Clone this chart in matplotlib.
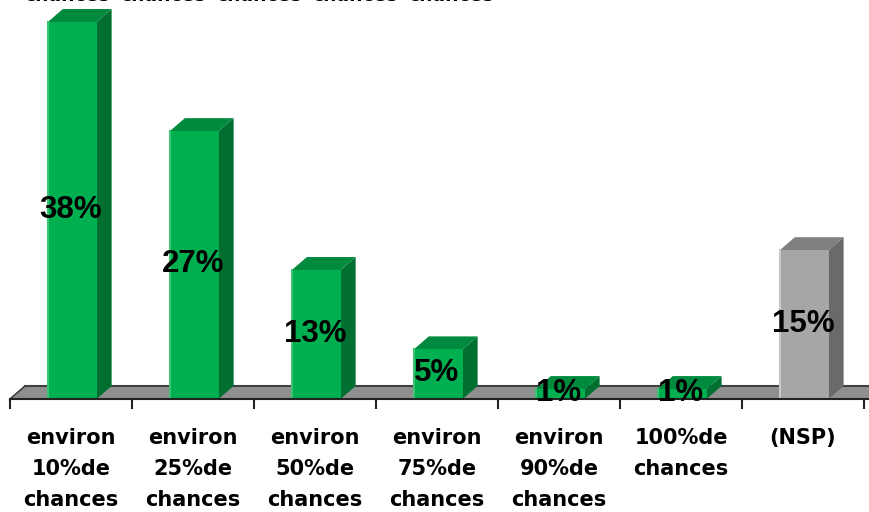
import numpy as np
import matplotlib
matplotlib.use('Agg')
import matplotlib.pyplot as plt
from matplotlib.patches import Polygon

# ── data ──────────────────────────────────────────────────────────────────────
categories = ['environ\n10%de\nchances', 'environ\n25%de\nchances',
              'environ\n50%de\nchances', 'environ\n75%de\nchances',
              'environ\n90%de\nchances', '100%de\nchances', '(NSP)']
values     = [38, 27, 13, 5, 1, 1, 15]
labels     = ['38%', '27%', '13%', '5%', '1%', '1%', '15%']
top_words  = ['chances'] * 5   # cut-off labels of the chart above

GREEN = ('#00B050', '#008A3E', '#006F2F', '#3CC473')   # front, top, side, edge
GRAY  = ('#A6A6A6', '#808080', '#6A6A6A', '#C8C8C8')
colors = [GREEN] * 6 + [GRAY]

# ── layout (pixels → data) ────────────────────────────────────────────────────
W, H = 869, 512
PX_PER_CAT = 122.0
PX_PER_PCT = 9.92
DX = 15 / PX_PER_CAT     # depth offset, x
DY = 13 / PX_PER_PCT     # depth offset, y
HALF = 0.20              # half width of bar front face

fig = plt.figure(figsize=(W / 100, H / 100), dpi=100)
ax_left, ax_right = 10, 864
ax_bottom = H - 399
ytop = 40
ax = fig.add_axes([ax_left / W, ax_bottom / H,
                   (ax_right - ax_left) / W, ytop * PX_PER_PCT / H])
ax.set_xlim(-0.5, 6.5)
ax.set_ylim(0, ytop)

# ── floor ─────────────────────────────────────────────────────────────────────
fx0, fx1 = -0.5, 6.5 + 2 * DX
floor = Polygon([(fx0, 0), (fx1, 0), (fx1 + DX, DY), (fx0 + DX, DY)],
                closed=True, facecolor='#8F8F8F', edgecolor='none',
                clip_on=False, zorder=1)
ax.add_patch(floor)
ax.plot([fx0 + DX, fx1 + DX], [DY, DY], color='#404040', lw=1.5,
        clip_on=False, zorder=1.5)
ax.plot([fx0, fx0 + DX], [0, DY], color='#404040', lw=1.2,
        clip_on=False, zorder=1.5)
ax.plot([fx0, fx1], [0, 0], color='#222222', lw=1.5,
        clip_on=False, zorder=4)

# ── bars ──────────────────────────────────────────────────────────────────────
for i, (v, lab, (cf, ct, cs, ce)) in enumerate(zip(values, labels, colors)):
    x0, x1 = i - HALF + 0.01, i + HALF + 0.01
    side = Polygon([(x1, 0), (x1 + DX, DY), (x1 + DX, v + DY), (x1, v)],
                   closed=True, facecolor=cs, edgecolor='none', zorder=2)
    top = Polygon([(x0, v), (x1, v), (x1 + DX, v + DY), (x0 + DX, v + DY)],
                  closed=True, facecolor=ct, edgecolor='none', zorder=2)
    ax.add_patch(side)
    ax.add_patch(top)
    ax.bar(i + 0.01, v, width=2 * HALF, color=cf, edgecolor='none', zorder=3)
    ax.plot([x0 + 0.004, x0 + 0.004], [0, v], color=ce, lw=1.5, zorder=3.5)
    ax.text(i, v / 2 + 0.1, lab, ha='center', va='center', fontsize=22.5,
            fontweight='bold', family='Liberation Sans', color='black',
            zorder=6)

# ── axes ──────────────────────────────────────────────────────────────────────
for s in ax.spines.values():
    s.set_visible(False)
ax.set_yticks([])
ax.set_xticks(np.arange(len(categories)))
ax.set_xticklabels(categories, fontsize=15, fontweight='bold',
                   family='DejaVu Sans', linespacing=1.68)
ax.tick_params(axis='x', which='major', length=0, pad=21)
ax.set_xticks(np.arange(len(categories) + 1) - 0.5, minor=True)
ax.tick_params(axis='x', which='minor', length=7, width=1.5,
               color='#222222', direction='out')

# cut-off text at the very top of the image
for k, w in enumerate(top_words):
    fig.text((67 + 96 * k) / W, 1 - 1 / H, w, ha='center', va='baseline',
             fontsize=13.5, fontweight='bold', family='DejaVu Sans')

fig.savefig('out.png', dpi=100)
